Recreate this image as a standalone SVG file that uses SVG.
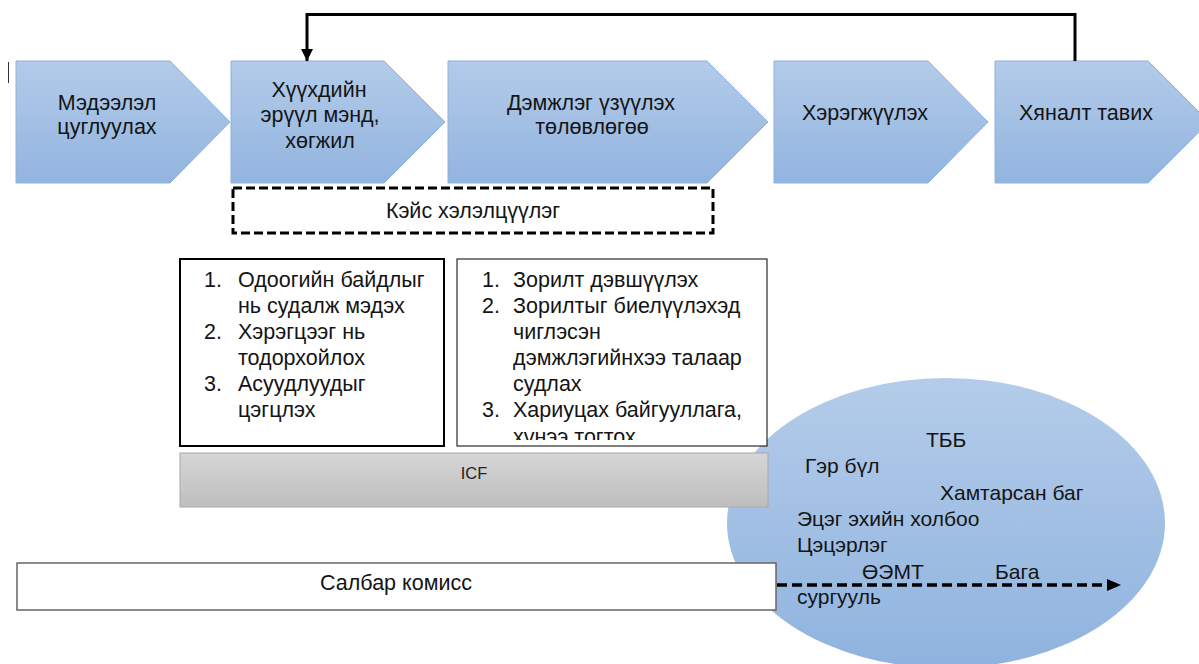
<svg xmlns="http://www.w3.org/2000/svg" width="1199" height="664" viewBox="0 0 1199 664">
  <defs>
    <linearGradient id="gBlue" x1="0" y1="0" x2="0" y2="1">
      <stop offset="0" stop-color="#b3cbe9"/>
      <stop offset="1" stop-color="#92b4df"/>
    </linearGradient>
    <linearGradient id="gEll" x1="0" y1="0" x2="0" y2="1">
      <stop offset="0" stop-color="#b4cce9"/>
      <stop offset="1" stop-color="#8fb3df"/>
    </linearGradient>
    <linearGradient id="gGray" x1="0" y1="0" x2="0" y2="1">
      <stop offset="0" stop-color="#d6d6d6"/>
      <stop offset="1" stop-color="#bebebe"/>
    </linearGradient>
    <clipPath id="clipBox2">
      <rect x="457" y="259" width="310" height="181"/>
    </clipPath>
    <marker id="arrowSolid" markerUnits="userSpaceOnUse" markerWidth="14" markerHeight="12" refX="12" refY="6" orient="auto">
      <path d="M0,0 L12,6 L0,12 Z" fill="#000"/>
    </marker>
    <marker id="arrowDash" markerUnits="userSpaceOnUse" markerWidth="16" markerHeight="12" refX="14" refY="6" orient="auto">
      <path d="M0,0 L14,6 L0,12 Z" fill="#000"/>
    </marker>
  </defs>
  <style>
    .chev { fill: url(#gBlue); stroke: #8eb1dd; stroke-width: 1; }
    .t { font-family: "Liberation Sans", Arial, sans-serif; font-size: 21.5px; fill: #141414; }
    .c { text-anchor: middle; }
    .ell { font-family: "Liberation Sans", Arial, sans-serif; font-size: 21px; fill: #141414; }
  </style>

  <rect width="1199" height="664" fill="#ffffff"/>

  <!-- background ellipse -->
  <g id="ellipse-partners">
    <ellipse cx="946" cy="523" rx="219" ry="145" fill="url(#gEll)"/>
  </g>

  <!-- small cursor mark -->
  <line x1="8.5" y1="62" x2="8.5" y2="83" stroke="#333" stroke-width="1"/>

  <g id="step1">
    <path class="chev" d="M16,61 H170 L230,122 L170,183 H16 Z"/>
    <text class="t c" x="107" y="110">Мэдээлэл</text>
    <text class="t c" x="107" y="134">цуглуулах</text>
  </g>
  <g id="step2">
    <path class="chev" d="M231,61 H384 L445,122 L384,183 H231 Z"/>
    <text class="t c" x="319" y="97">Хүүхдийн</text>
    <text class="t c" x="320" y="122">эрүүл мэнд,</text>
    <text class="t c" x="320" y="148">хөгжил</text>
  </g>
  <g id="step3">
    <path class="chev" d="M448,61 H707 L768,122 L707,183 H448 Z"/>
    <text class="t c" x="591" y="110">Дэмжлэг үзүүлэх</text>
    <text class="t c" x="592" y="134">төлөвлөгөө</text>
  </g>
  <g id="step4">
    <path class="chev" d="M774,61 H928 L988,122 L928,183 H774 Z"/>
    <text class="t c" x="865" y="120">Хэрэгжүүлэх</text>
  </g>
  <g id="step5">
    <path class="chev" d="M995,61 H1148 L1209,122 L1148,183 H995 Z"/>
    <text class="t c" x="1086" y="120">Хяналт тавих</text>
  </g>

  <g id="case-discussion">
    <rect x="233" y="188" width="480" height="45" fill="#fff" stroke="#000" stroke-width="3" stroke-dasharray="9,4"/>
    <text class="t c" x="473" y="218">Кэйс хэлэлцүүлэг</text>
  </g>

  <g id="list1">
    <rect x="180" y="259" width="264" height="187" fill="#fff" stroke="#000" stroke-width="2"/>
    <text class="t" x="204" y="287">1.</text>
    <text class="t" x="238" y="287">Одоогийн байдлыг</text>
    <text class="t" x="238" y="313">нь судалж мэдэх</text>
    <text class="t" x="204" y="339">2.</text>
    <text class="t" x="238" y="339">Хэрэгцээг нь</text>
    <text class="t" x="238" y="365">тодорхойлох</text>
    <text class="t" x="204" y="391">3.</text>
    <text class="t" x="238" y="391">Асуудлуудыг</text>
    <text class="t" x="238" y="417">цэгцлэх</text>
  </g>

  <g id="list2">
    <rect x="457" y="259" width="310" height="187" fill="#fff" stroke="#000" stroke-width="1"/>
    <g clip-path="url(#clipBox2)">
      <text class="t" x="482" y="287">1.</text>
      <text class="t" x="513" y="287">Зорилт дэвшүүлэх</text>
      <text class="t" x="482" y="313">2.</text>
      <text class="t" x="513" y="313">Зорилтыг биелүүлэхэд</text>
      <text class="t" x="513" y="339">чиглэсэн</text>
      <text class="t" x="513" y="365">дэмжлэгийнхээ талаар</text>
      <text class="t" x="513" y="391">судлах</text>
      <text class="t" x="482" y="417">3.</text>
      <text class="t" x="513" y="417">Хариуцах байгууллага,</text>
      <text class="t" x="513" y="444">хүнээ тогтох</text>
    </g>
  </g>

  <g id="icf">
    <rect x="180" y="453" width="588" height="54" fill="url(#gGray)" stroke="#a8a8a8" stroke-width="1"/>
    <text x="474" y="479" text-anchor="middle" font-family="Liberation Sans, Arial, sans-serif" font-size="16.5px" fill="#222">ICF</text>
  </g>

  <g id="ellipse-labels">
    <text class="ell" x="926" y="447">ТББ</text>
    <text class="ell" x="805" y="473">Гэр бүл</text>
    <text class="ell" x="940" y="500">Хамтарсан баг</text>
    <text class="ell" x="797" y="526">Эцэг эхийн холбоо</text>
    <text class="ell" x="797" y="552">Цэцэрлэг</text>
    <text class="ell" x="862" y="579">ӨЭМТ</text>
    <text class="ell" x="995" y="579">Бага</text>
    <text class="ell" x="797" y="604">сургууль</text>
  </g>

  <g id="branch-commission">
    <rect x="17" y="563" width="759" height="47" fill="#fff" stroke="#666" stroke-width="1.5"/>
    <text class="t c" x="396" y="590">Салбар комисс</text>
  </g>

  <g id="connectors">
    <path d="M1075,61 V14.5 H307 V61" fill="none" stroke="#000" stroke-width="3" marker-end="url(#arrowSolid)"/>
    <line x1="777" y1="585" x2="1121" y2="585" stroke="#000" stroke-width="3.5" stroke-dasharray="10,5" marker-end="url(#arrowDash)"/>
  </g>
</svg>
